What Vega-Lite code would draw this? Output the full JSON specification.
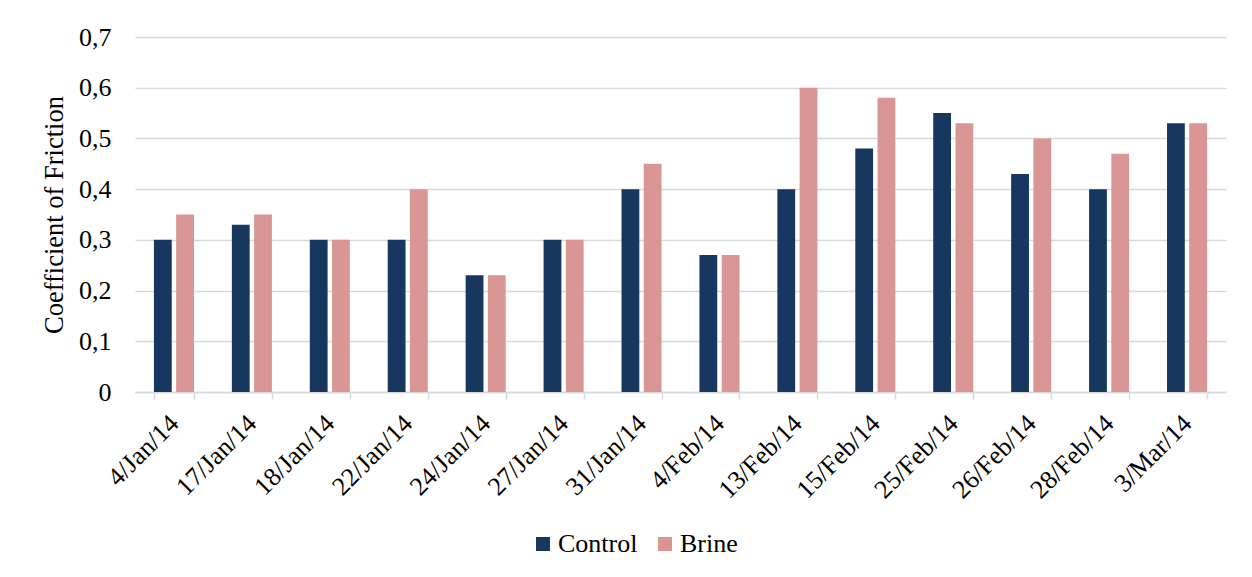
{
  "$schema": "https://vega.github.io/schema/vega-lite/v6.json",
  "width": 1091,
  "height": 355,
  "autosize": "none",
  "padding": {"left": 135, "top": 37, "right": 26, "bottom": 185},
  "background": "white",
  "config": {
    "font": "Liberation Serif",
    "view": {"stroke": null}
  },
  "data": {
    "values": [
      {"date": "4/Jan/14", "series": "Control", "value": 0.30},
      {"date": "4/Jan/14", "series": "Brine", "value": 0.35},
      {"date": "17/Jan/14", "series": "Control", "value": 0.33},
      {"date": "17/Jan/14", "series": "Brine", "value": 0.35},
      {"date": "18/Jan/14", "series": "Control", "value": 0.30},
      {"date": "18/Jan/14", "series": "Brine", "value": 0.30},
      {"date": "22/Jan/14", "series": "Control", "value": 0.30},
      {"date": "22/Jan/14", "series": "Brine", "value": 0.40},
      {"date": "24/Jan/14", "series": "Control", "value": 0.23},
      {"date": "24/Jan/14", "series": "Brine", "value": 0.23},
      {"date": "27/Jan/14", "series": "Control", "value": 0.30},
      {"date": "27/Jan/14", "series": "Brine", "value": 0.30},
      {"date": "31/Jan/14", "series": "Control", "value": 0.40},
      {"date": "31/Jan/14", "series": "Brine", "value": 0.45},
      {"date": "4/Feb/14", "series": "Control", "value": 0.27},
      {"date": "4/Feb/14", "series": "Brine", "value": 0.27},
      {"date": "13/Feb/14", "series": "Control", "value": 0.40},
      {"date": "13/Feb/14", "series": "Brine", "value": 0.60},
      {"date": "15/Feb/14", "series": "Control", "value": 0.48},
      {"date": "15/Feb/14", "series": "Brine", "value": 0.58},
      {"date": "25/Feb/14", "series": "Control", "value": 0.55},
      {"date": "25/Feb/14", "series": "Brine", "value": 0.53},
      {"date": "26/Feb/14", "series": "Control", "value": 0.43},
      {"date": "26/Feb/14", "series": "Brine", "value": 0.50},
      {"date": "28/Feb/14", "series": "Control", "value": 0.40},
      {"date": "28/Feb/14", "series": "Brine", "value": 0.47},
      {"date": "3/Mar/14", "series": "Control", "value": 0.53},
      {"date": "3/Mar/14", "series": "Brine", "value": 0.53}
    ]
  },
  "mark": {"type": "bar"},
  "encoding": {
    "x": {
      "field": "date",
      "type": "nominal",
      "sort": null,
      "scale": {"paddingInner": 0.486, "paddingOuter": 0.243},
      "axis": {
        "title": null,
        "labelAngle": -45,
        "labelAlign": "right",
        "labelBaseline": "middle",
        "labelFontSize": 26,
        "labelColor": "#000000",
        "labelPadding": 20,
        "labelOverlap": false,
        "tickBand": "extent",
        "tickSize": 7,
        "tickColor": "#d9d9d9",
        "tickWidth": 1.5,
        "domainColor": "#d9d9d9",
        "domainWidth": 1.5,
        "grid": false
      }
    },
    "xOffset": {
      "field": "series",
      "type": "nominal",
      "sort": ["Control", "Brine"],
      "scale": {"paddingInner": 0.2}
    },
    "y": {
      "field": "value",
      "type": "quantitative",
      "scale": {"domain": [0, 0.7], "nice": false},
      "axis": {
        "title": "Coefficient of Friction",
        "titleFontSize": 26.5,
        "titleFontWeight": "normal",
        "titleColor": "#000000",
        "titlePadding": 10,
        "values": [0, 0.1, 0.2, 0.3, 0.4, 0.5, 0.6, 0.7],
        "labelExpr": "datum.value == 0 ? '0' : replace(format(datum.value, '.1f'), '.', ',')",
        "labelFontSize": 26,
        "labelColor": "#000000",
        "labelPadding": 24,
        "ticks": false,
        "domain": false,
        "grid": true,
        "gridColor": "#d9d9d9",
        "gridWidth": 1.5
      }
    },
    "color": {
      "field": "series",
      "type": "nominal",
      "sort": ["Control", "Brine"],
      "scale": {"domain": ["Control", "Brine"], "range": ["#17375e", "#d99694"]},
      "legend": {
        "title": null,
        "orient": "none",
        "direction": "horizontal",
        "legendX": 395,
        "legendY": 494,
        "symbolType": "square",
        "symbolSize": 196,
        "symbolStrokeWidth": 0,
        "labelFontSize": 26,
        "labelColor": "#000000",
        "labelOffset": 2,
        "columnPadding": 14
      }
    }
  }
}
